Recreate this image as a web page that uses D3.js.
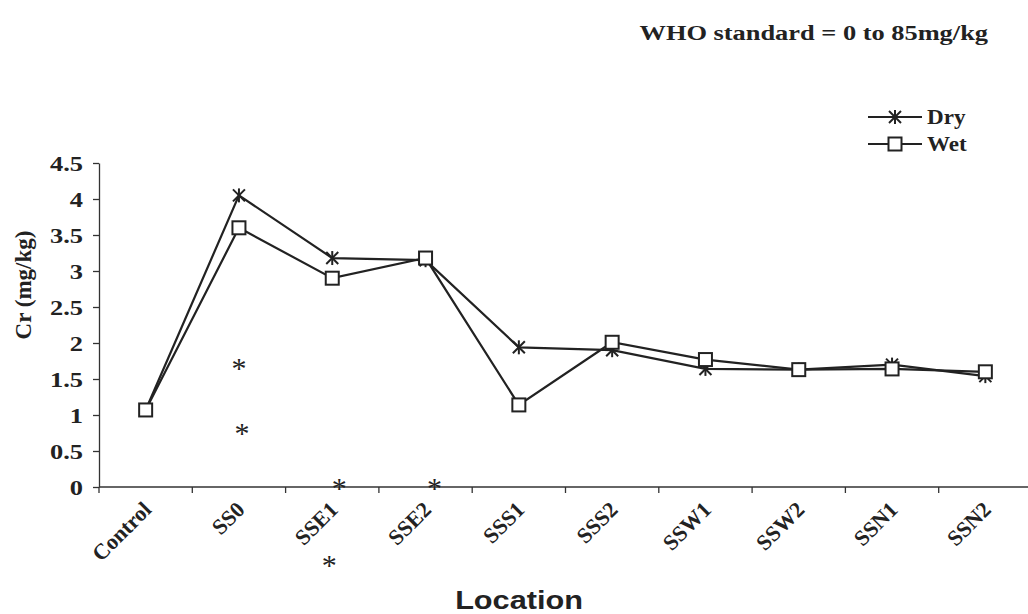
<!DOCTYPE html>
<html>
<head>
<meta charset="utf-8">
<script src="https://cdn.jsdelivr.net/npm/d3@7"></script>
<style>
  body { margin: 0; background: #fff; }
  svg { display: block; }
</style>
</head>
<body>
<svg id="chart" width="1028" height="614"></svg>
<script>
// Chromium (Cr) concentration by sampling location, dry and wet seasons
const locations = ["Control", "SS0", "SSE1", "SSE2", "SSS1", "SSS2", "SSW1", "SSW2", "SSN1", "SSN2"];
const dryValues = [1.07, 4.05, 3.18, 3.15, 1.94, 1.90, 1.64, 1.63, 1.70, 1.54];
const wetValues = [1.07, 3.60, 2.90, 3.18, 1.14, 2.01, 1.77, 1.63, 1.64, 1.60];
const yTicks = [0, 0.5, 1, 1.5, 2, 2.5, 3, 3.5, 4, 4.5];
// significance asterisks: location, value and x nudge in px
const asteriskLocs = ["SS0", "SS0", "SSE1", "SSE2", "SSE1"];
const asteriskVals = [1.72, 0.82, 0.05, 0.05, -1.02];
const asteriskNudge = [0, 3, 7, 9, -3];

const svg = d3.select("#chart");
const serif = "'Liberation Serif', 'Times New Roman', serif";
const sans = "'Liberation Sans', Arial, sans-serif";
const sx = 1.2; // wide lettering

const left = 99, bandW = 93.3;
const x = d3.scaleBand().domain(locations).range([left, left + bandW * locations.length]);
const y = d3.scaleLinear().domain([0, 4.5]).range([487, 163]);
const cx = d => x(d) + x.bandwidth() / 2;

// y axis
const yAxis = svg.append("g").attr("transform", `translate(${left},0)`)
  .call(d3.axisLeft(y).tickValues(yTicks).tickSize(6).tickSizeOuter(0).tickFormat(d3.format("")));
yAxis.select(".domain").attr("stroke", "#333").attr("stroke-width", 1.3);
yAxis.selectAll(".tick line").attr("stroke", "#333").attr("stroke-width", 1.3);
yAxis.selectAll(".tick text").remove();
yAxis.selectAll(".tick").append("text")
  .attr("transform", `translate(-16,0) scale(${sx},1)`).attr("dy", "0.35em")
  .attr("text-anchor", "end")
  .style("font-family", serif).style("font-weight", "bold").style("font-size", "22px")
  .attr("fill", "#222").text(d => d3.format("")(d));

// x axis with ticks between categories
const xg = svg.append("g").attr("transform", `translate(0,${y(0)})`);
xg.append("line").attr("x1", left).attr("x2", 1028).attr("y1", 0).attr("y2", 0)
  .attr("stroke", "#333").attr("stroke-width", 1.3);
xg.selectAll("line.tk").data(locations).join("line").attr("class", "tk")
  .attr("x1", d => x(d)).attr("x2", d => x(d)).attr("y1", 0).attr("y2", 6)
  .attr("stroke", "#333").attr("stroke-width", 1.3);
xg.selectAll("text").data(locations).join("text")
  .attr("transform", d => `translate(${cx(d) + 7},${24}) rotate(-45)`)
  .attr("text-anchor", "end")
  .style("font-family", serif).style("font-weight", "bold").style("font-size", "22px")
  .attr("fill", "#222").text(d => d);

// axis titles
svg.append("text").attr("transform", "translate(31,285) rotate(-90)")
  .attr("text-anchor", "middle")
  .style("font-family", serif).style("font-weight", "bold").style("font-size", "23px")
  .attr("fill", "#222").text("Cr (mg/kg)");
svg.append("text").attr("transform", `translate(519,609) scale(1.18,1)`).attr("text-anchor", "middle")
  .style("font-family", sans).style("font-weight", "bold").style("font-size", "26px")
  .attr("fill", "#222").text("Location");

// header note
svg.append("text").attr("transform", `translate(988,40) scale(${sx},1)`).attr("text-anchor", "end")
  .style("font-family", serif).style("font-weight", "bold").style("font-size", "22px")
  .attr("fill", "#222").text("WHO standard = 0 to 85mg/kg");

const line = d3.line().x((d, i) => cx(locations[i])).y(d => y(d));

function starMarker(g, px, py, r) {
  const s = g.append("g").attr("transform", `translate(${px},${py})`)
    .attr("stroke", "#222").attr("stroke-width", 2);
  s.append("line").attr("x1", -r).attr("y1", -r).attr("x2", r).attr("y2", r);
  s.append("line").attr("x1", -r).attr("y1", r).attr("x2", r).attr("y2", -r);
  s.append("line").attr("x1", 0).attr("y1", -r - 1).attr("x2", 0).attr("y2", r + 1);
}
function squareMarker(g, px, py, s) {
  g.append("rect").attr("x", px - s / 2).attr("y", py - s / 2).attr("width", s).attr("height", s)
    .attr("fill", "#fff").attr("stroke", "#222").attr("stroke-width", 2);
}

const plot = svg.append("g");
plot.append("path").datum(dryValues).attr("d", line)
  .attr("fill", "none").attr("stroke", "#222").attr("stroke-width", 2.2);
plot.append("path").datum(wetValues).attr("d", line)
  .attr("fill", "none").attr("stroke", "#222").attr("stroke-width", 2.2);
dryValues.forEach((v, i) => starMarker(plot, cx(locations[i]), y(v), 6));
wetValues.forEach((v, i) => squareMarker(plot, cx(locations[i]), y(v), 13));

// asterisks
asteriskLocs.forEach((loc, i) => {
  svg.append("text").attr("x", cx(loc) + asteriskNudge[i]).attr("y", y(asteriskVals[i]) + 15)
    .attr("text-anchor", "middle")
    .style("font-family", serif).style("font-size", "30px").attr("fill", "#222").text("*");
});

// legend
const legend = svg.append("g");
const series = [["Dry", "star"], ["Wet", "square"]];
series.forEach(([name, kind], i) => {
  const ly = 117 + i * 27;
  legend.append("line").attr("x1", 868).attr("x2", 922).attr("y1", ly).attr("y2", ly)
    .attr("stroke", "#222").attr("stroke-width", 2.2);
  if (kind === "star") starMarker(legend, 895, ly, 6);
  else squareMarker(legend, 895, ly, 13);
  legend.append("text").attr("transform", `translate(927,${ly + 7}) scale(1.1,1)`)
    .style("font-family", serif).style("font-weight", "bold").style("font-size", "21px")
    .attr("fill", "#222").text(name);
});
</script>
</body>
</html>
